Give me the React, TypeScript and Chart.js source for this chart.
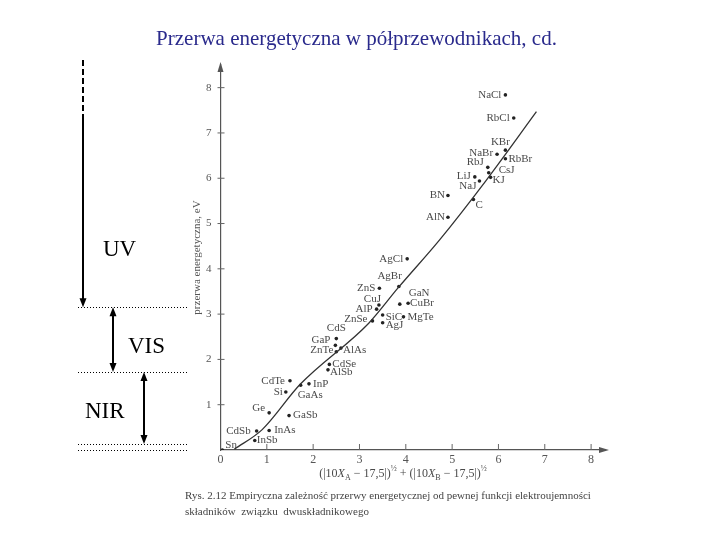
import React, { useEffect, useRef } from "react";
import { Chart, registerables } from "chart.js";

Chart.register(...registerables);

// ---------- data ----------
const compounds = [
  "Sn", "InSb", "CdSb", "InAs", "Ge", "GaSb", "Si", "CdTe", "GaAs", "InP",
  "AlSb", "CdSe", "ZnTe", "AlAs", "GaP", "CdS", "ZnSe", "AlP", "CuJ", "ZnS",
  "AgBr", "AgCl", "SiC", "AgJ", "GaN", "CuBr", "MgTe", "AlN", "BN", "C",
  "NaJ", "LiJ", "KJ", "CsJ", "RbJ", "NaBr", "RbBr", "KBr", "RbCl", "NaCl",
];
const electroFn = [
  0.04, 0.74, 0.78, 1.05, 1.05, 1.48, 1.41, 1.5, 1.73, 1.91,
  2.32, 2.35, 2.5, 2.6, 2.48, 2.5, 3.28, 3.37, 3.42, 3.43,
  3.85, 4.03, 3.5, 3.5, 3.87, 4.05, 3.95, 4.91, 4.91, 5.46,
  5.59, 5.49, 5.83, 5.79, 5.77, 5.97, 6.15, 6.15, 6.33, 6.15,
];
const bandGap = [
  0.0, 0.21, 0.42, 0.43, 0.82, 0.76, 1.28, 1.53, 1.43, 1.46,
  1.77, 1.89, 2.17, 2.25, 2.31, 2.46, 2.85, 3.11, 3.2, 3.57,
  3.61, 4.22, 2.98, 2.81, 3.22, 3.24, 2.94, 5.14, 5.62, 5.53,
  5.94, 6.03, 6.02, 6.12, 6.24, 6.53, 6.43, 6.62, 7.33, 7.84,
];
const trendX = [0.3, 0.9, 1.72, 3.2, 3.85, 4.73, 5.74, 6.82];
const trendY = [0.02, 0.45, 1.45, 2.8, 3.6, 4.64, 5.96, 7.47];
const xTickValues = [0, 1, 2, 3, 4, 5, 6, 7, 8];
const yTickValues = [1, 2, 3, 4, 5, 6, 7, 8];
// spectral range boundaries (eV) used for the dotted guide lines
const rangeBounds = [3.15, 1.72, 0.13, 0.0];

// ---------- label placement (style) ----------
const labelPlace: Record<string, [number, number, string]> = {
  Sn: [3, -5, "l"], InSb: [2, 0, "l"], CdSb: [-6, 0, "r"], InAs: [5, 0, "l"],
  Ge: [-4, -5, "r"], GaSb: [4, 0, "l"], Si: [-3, 0, "r"], CdTe: [-5, 0, "r"],
  GaAs: [-3, 10, "l"], InP: [4, 0, "l"], AlSb: [2, 2, "l"], CdSe: [3, 0, "l"],
  ZnTe: [-3, -2, "r"], AlAs: [2, 2, "l"], GaP: [-5, -5, "r"], CdS: [0, -10, "c"],
  ZnSe: [-5, -2, "r"], AlP: [-4, 0, "r"], CuJ: [2, -6, "r"], ZnS: [-4, 0, "r"],
  AgBr: [3, -10, "r"], AgCl: [-4, 0, "r"], SiC: [3, 2, "l"], AgJ: [3, 2, "l"],
  GaN: [9, -11, "l"], CuBr: [2, 0, "l"], MgTe: [4, 0, "l"], AlN: [-3, 0, "r"],
  BN: [-3, 0, "r"], C: [2, 6, "l"], NaJ: [-3, 5, "r"], LiJ: [-4, -1, "r"],
  KJ: [2, 3, "l"], CsJ: [10, -3, "l"], RbJ: [-4, -5, "r"], NaBr: [-4, -1, "r"],
  RbBr: [3, 0, "l"], KBr: [-5, -8, "c"], RbCl: [-4, 0, "r"], NaCl: [-4, 0, "r"],
};

const SERIF = "'Liberation Serif', 'DejaVu Serif', serif";
const GREY = "#4a4a4a";

function arrowHead(ctx: CanvasRenderingContext2D, x: number, y: number, dir: "up" | "down" | "right", len: number, hw: number) {
  ctx.beginPath();
  if (dir === "up") {
    ctx.moveTo(x, y); ctx.lineTo(x - hw, y + len); ctx.lineTo(x + hw, y + len);
  } else if (dir === "down") {
    ctx.moveTo(x, y); ctx.lineTo(x - hw, y - len); ctx.lineTo(x + hw, y - len);
  } else {
    ctx.moveTo(x, y); ctx.lineTo(x - len, y - hw); ctx.lineTo(x - len, y + hw);
  }
  ctx.closePath();
  ctx.fill();
}

const annotations = {
  id: "annotations",
  afterDraw(chart: any) {
    const { ctx, scales } = chart;
    const xs = scales.x;
    const ys = scales.y;
    const X = (v: number) => xs.getPixelForValue(v);
    const Y = (v: number) => ys.getPixelForValue(v);
    ctx.save();

    // axis arrows
    ctx.fillStyle = "#555";
    arrowHead(ctx, xs.right + 4, Y(0), "right", 10, 3);
    arrowHead(ctx, X(0), ys.top - 3, "up", 10, 3);

    // inner tick marks
    ctx.strokeStyle = "#666";
    ctx.lineWidth = 1;
    xTickValues.slice(1).forEach((v) => {
      ctx.beginPath(); ctx.moveTo(X(v), Y(0)); ctx.lineTo(X(v), Y(0) - 6); ctx.stroke();
    });
    yTickValues.forEach((v) => {
      ctx.beginPath(); ctx.moveTo(X(0) - 3, Y(v)); ctx.lineTo(X(0) + 4, Y(v)); ctx.stroke();
    });

    // compound labels
    const meta = chart.getDatasetMeta(1);
    ctx.fillStyle = GREY;
    ctx.font = `11px ${SERIF}`;
    ctx.textBaseline = "middle";
    meta.data.forEach((pt: any, i: number) => {
      const name = compounds[i];
      const [dx, dy, al] = labelPlace[name] || [4, 0, "l"];
      ctx.textAlign = al === "l" ? "left" : al === "r" ? "right" : "center";
      ctx.fillText(name, pt.x + dx, pt.y + dy);
    });

    // x-axis title with sub/superscripts
    const segs: [string, string][] = [
      ["(|10", "n"], ["X", "i"], ["A", "sub"], [" − 17,5|)", "n"], ["½", "sup"],
      [" + (|10", "n"], ["X", "i"], ["B", "sub"], [" − 17,5|)", "n"], ["½", "sup"],
    ];
    const fontFor = (k: string) =>
      k === "i" ? `italic 12px ${SERIF}` : k === "n" ? `12px ${SERIF}` : `8px ${SERIF}`;
    let total = 0;
    segs.forEach(([t, k]) => { ctx.font = fontFor(k); total += ctx.measureText(t).width; });
    let cx = 403 - total / 2;
    const base = 477;
    ctx.textAlign = "left";
    ctx.textBaseline = "alphabetic";
    segs.forEach(([t, k]) => {
      ctx.font = fontFor(k);
      const off = k === "sub" ? 3 : k === "sup" ? -6 : 0;
      ctx.fillText(t, cx, base + off);
      cx += ctx.measureText(t).width;
    });

    // caption
    ctx.fillStyle = "#444";
    ctx.font = `11px ${SERIF}`;
    ctx.fillText("Rys. 2.12 Empiryczna zależność przerwy energetycznej od pewnej funkcji elektroujemności", 185, 499);
    ctx.fillText("składników  związku  dwuskładnikowego", 185, 515);

    // page title
    ctx.fillStyle = "#2a2a8c";
    ctx.font = `21px ${SERIF}`;
    ctx.textAlign = "center";
    ctx.fillText("Przerwa energetyczna w półprzewodnikach, cd.", 356.5, 45);

    // spectral ranges on the left
    ctx.strokeStyle = "#000";
    ctx.lineWidth = 1;
    ctx.setLineDash([1, 2]);
    rangeBounds.forEach((b) => {
      const yy = Math.round(Y(b)) + 0.5;
      ctx.beginPath(); ctx.moveTo(78, yy); ctx.lineTo(187, yy); ctx.stroke();
    });
    ctx.lineWidth = 2;
    ctx.fillStyle = "#000";
    // UV arrow (dashed top part)
    ctx.setLineDash([6, 3]);
    ctx.beginPath(); ctx.moveTo(83, 60); ctx.lineTo(83, 117); ctx.stroke();
    ctx.setLineDash([]);
    const yUV = Y(rangeBounds[0]);
    const yVIS = Y(rangeBounds[1]);
    const yNIR = Y(rangeBounds[2]);
    ctx.beginPath(); ctx.moveTo(83, 117); ctx.lineTo(83, yUV - 6); ctx.stroke();
    arrowHead(ctx, 83, yUV, "down", 9, 3.5);
    // VIS
    ctx.beginPath(); ctx.moveTo(113, yUV + 6); ctx.lineTo(113, yVIS - 6); ctx.stroke();
    arrowHead(ctx, 113, yUV, "up", 9, 3.5);
    arrowHead(ctx, 113, yVIS, "down", 9, 3.5);
    // NIR
    ctx.beginPath(); ctx.moveTo(144, yVIS + 6); ctx.lineTo(144, yNIR - 6); ctx.stroke();
    arrowHead(ctx, 144, yVIS, "up", 9, 3.5);
    arrowHead(ctx, 144, yNIR, "down", 9, 3.5);

    ctx.font = `23px ${SERIF}`;
    ctx.textAlign = "left";
    ctx.fillText("UV", 103, 256);
    ctx.fillText("VIS", 128, 353);
    ctx.fillText("NIR", 85, 418);

    ctx.restore();
  },
};

export default function App() {
  const ref = useRef<HTMLCanvasElement | null>(null);

  useEffect(() => {
    if (!ref.current) return;
    const chart = new Chart(ref.current, {
      type: "scatter",
      data: {
        datasets: [
          {
            type: "line",
            label: "trend",
            data: trendX.map((x, i) => ({ x, y: trendY[i] })),
            borderColor: "#333",
            borderWidth: 1.3,
            pointRadius: 0,
            cubicInterpolationMode: "monotone",
            fill: false,
          } as any,
          {
            type: "scatter",
            label: "compounds",
            data: electroFn.map((x, i) => ({ x, y: bandGap[i] })),
            backgroundColor: "#222",
            borderWidth: 0,
            pointRadius: 1.8,
          },
        ],
      },
      options: {
        animation: false,
        responsive: false,
        devicePixelRatio: 1,
        layout: { padding: { left: 190.5, right: 115, top: 65, bottom: 68 } },
        plugins: { legend: { display: false }, tooltip: { enabled: false }, title: { display: false } },
        scales: {
          x: {
            type: "linear",
            min: 0,
            max: 8.3,
            afterFit: (s: any) => { s.height = 22; },
            afterBuildTicks: (s: any) => { s.ticks = xTickValues.map((value) => ({ value })); },
            border: { display: true, color: "#555", width: 1.2 },
            grid: { drawOnChartArea: false, drawTicks: false },
            ticks: { padding: 3, color: "#555", font: { family: SERIF, size: 12 }, maxRotation: 0, autoSkip: false },
          },
          y: {
            type: "linear",
            min: 0,
            max: 8.5,
            afterFit: (s: any) => { s.width = 30; },
            afterBuildTicks: (s: any) => { s.ticks = yTickValues.map((value) => ({ value })); },
            border: { display: true, color: "#555", width: 1.2 },
            grid: { drawOnChartArea: false, drawTicks: false },
            ticks: { padding: 9, color: "#555", font: { family: SERIF, size: 11 }, autoSkip: false },
            title: {
              display: true,
              text: "przerwa energetyczna, eV",
              color: "#555",
              font: { family: SERIF, size: 11 },
              padding: { top: 0, bottom: 0 },
            },
          },
        },
      } as any,
      plugins: [annotations],
    });
    return () => chart.destroy();
  }, []);

  return (
    <div style={{ position: "fixed", left: 0, top: 0, width: 720, height: 540, background: "#fff" }}>
      <canvas ref={ref} width={720} height={540} style={{ display: "block" }} />
    </div>
  );
}
